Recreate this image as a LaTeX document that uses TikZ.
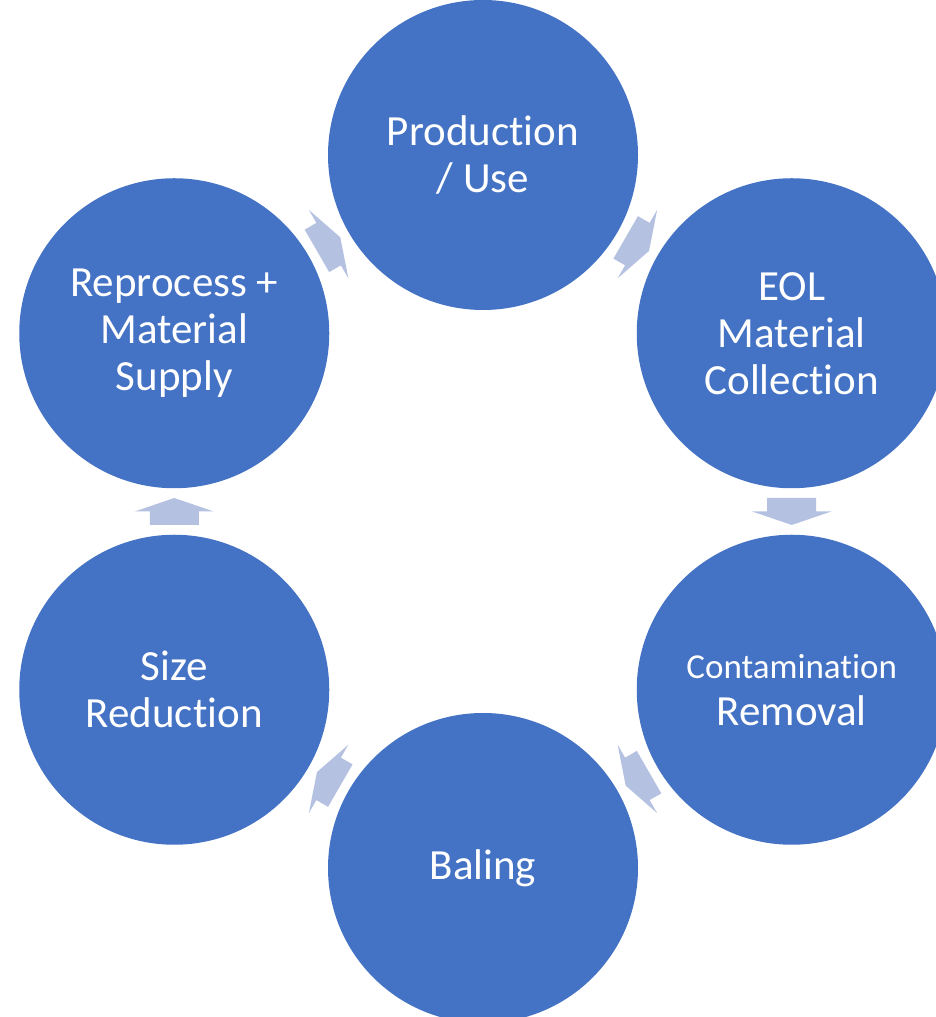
\documentclass[tikz,border=0pt]{standalone}
\usepackage{fontspec}
\setmainfont{Carlito}[Ligatures=NoCommon]
\usepackage{xcolor}
\usepackage{tikz}
\usetikzlibrary{positioning,calc}
\definecolor{cycleblue}{HTML}{4472C4}
\definecolor{arrowblue}{HTML}{B4C1E1}

\begin{document}
\begin{tikzpicture}[x=1pt,y=1pt,
  stage/.style={circle,fill=cycleblue,minimum size=310pt,inner sep=0pt,
    text=white,align=center,font=\fontsize{43}{47}\selectfont},
  flowarrow/.style={fill=arrowblue}]
\useasboundingbox (0,0) rectangle (936,1017);
\clip (0,0) rectangle (936,1017);
% centre of the cycle
\coordinate (c) at (483,505.5);

% six stages, clockwise from the top
\node[stage] (prod) at ($(c)+(90:356.5)$) {Production\\/ Use};
\node[stage] (eol) at ($(c)+(30:356.5)$) {EOL\\Material\\Collection};
\node[stage] (cont) at ($(c)+(-30:356.5)$) {{\fontsize{35}{40}\selectfont Contamination}\\Removal};
\node[stage] (bal) at ($(c)+(-90:356.5)$) {Baling};
\node[stage] (size) at ($(c)+(-150:356.5)$) {Size\\Reduction};
\node[stage] (repr) at ($(c)+(150:356.5)$) {Reprocess +\\Material\\Supply};

% block arrows half way between neighbours
\foreach \a/\b/\ang in {prod/eol/-30, eol/cont/-90, cont/bal/-150, bal/size/150, size/repr/90, repr/prod/30} {
    \coordinate (m) at ($(\a)!0.5!(\b)$);
    \fill[flowarrow,shift={(m)},rotate=\ang] (-13.5,-24.5) -- (0,-24.5) -- (0,-39.5) -- (13.5,0)
        -- (0,39.5) -- (0,24.5) -- (-13.5,24.5) -- cycle;
}
\end{tikzpicture}
\end{document}
